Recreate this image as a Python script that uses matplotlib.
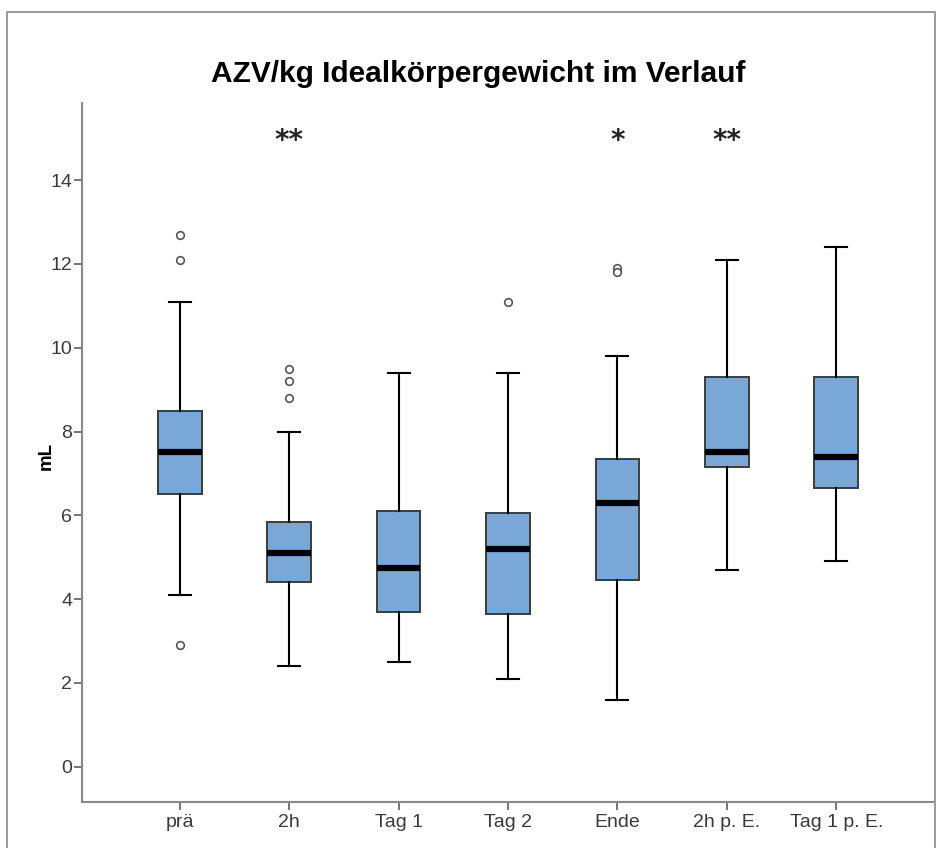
import matplotlib
matplotlib.use("Agg")
import matplotlib.pyplot as plt
from matplotlib.patches import Rectangle

# Time points and box statistics (mL per kg ideal body weight)
categories = ["prä", "2h", "Tag 1", "Tag 2", "Ende", "2h p. E.", "Tag 1 p. E."]
medians = [7.5, 5.1, 4.75, 5.2, 6.3, 7.5, 7.4]
q1 = [6.5, 4.4, 3.7, 3.65, 4.45, 7.15, 6.65]
q3 = [8.5, 5.85, 6.1, 6.05, 7.35, 9.3, 9.3]
whisker_low = [4.1, 2.4, 2.5, 2.1, 1.6, 4.7, 4.9]
whisker_high = [11.1, 8.0, 9.4, 9.4, 9.8, 12.1, 12.4]
outliers = [[12.7, 12.1, 2.9], [9.5, 9.2, 8.8], [], [11.1], [11.9, 11.8], [], []]
significance = ["", "**", "", "", "*", "**", ""]
y_ticks = [0, 2, 4, 6, 8, 10, 12, 14]

plt.rcParams["font.family"] = ["Liberation Sans", "DejaVu Sans"]

W, H = 938, 848
fig = plt.figure(figsize=(W / 100, H / 100), dpi=100)
fig.patch.set_facecolor("white")

# outer chart frame
fig.patches.append(Rectangle((7 / W, -0.1), (935 - 7) / W, 1 - 12 / H + 0.1,
                             transform=fig.transFigure, fill=False,
                             edgecolor="#8a8a8a", linewidth=1.2))

ax = fig.add_axes([82 / W, 1 - 801.7 / H, (933 - 82) / W, (801.7 - 103) / H])

stats = []
for i, name in enumerate(categories):
    stats.append(dict(label=name, med=medians[i], q1=q1[i], q3=q3[i],
                      whislo=whisker_low[i], whishi=whisker_high[i],
                      fliers=outliers[i]))

positions = list(range(len(categories)))
ax.bxp(stats, positions=positions, widths=0.4, capwidths=0.2,
       patch_artist=True, showfliers=True,
       boxprops=dict(facecolor="#79a8d7", edgecolor="#3c3c3c", linewidth=1.4),
       medianprops=dict(color="black", linewidth=4.5, solid_capstyle="butt"),
       whiskerprops=dict(color="black", linewidth=1.5),
       capprops=dict(color="black", linewidth=1.5),
       flierprops=dict(marker="o", markersize=5.5, markerfacecolor="white",
                       markeredgecolor="#555555", markeredgewidth=1.2))

# significance markers above the boxes
for i, s in enumerate(significance):
    if s:
        ax.text(i, 14.75, s, ha="center", va="baseline", fontsize=20,
                fontweight="bold", family="DejaVu Sans", color="#222222")

ax.set_xlim(-0.893, 6.884)
ax.set_ylim(-0.835, 15.84)
ax.set_yticks(y_ticks)
ax.set_xticks(positions)
ax.set_xticklabels(categories)

for side in ("top", "right"):
    ax.spines[side].set_visible(False)
for side in ("left", "bottom"):
    ax.spines[side].set_color("#8a8a8a")
    ax.spines[side].set_linewidth(1.5)

ax.tick_params(axis="both", direction="out", length=6, width=1.3,
               color="#6a6a6a", labelsize=14, labelcolor="#3a3a3a")
ax.tick_params(axis="y", pad=1)
ax.tick_params(axis="x", pad=3)

fig.text(46 / W, 1 - 456 / H, "mL", rotation=90, ha="center", va="center",
         fontsize=13.5, fontweight="bold", color="black")

fig.text(478.5 / W, 1 - 81.5 / H, "AZV/kg Idealkörpergewicht im Verlauf",
         ha="center", va="baseline", fontsize=21.5, fontweight="bold",
         color="black")

fig.savefig("out.png", dpi=100, facecolor="white")
